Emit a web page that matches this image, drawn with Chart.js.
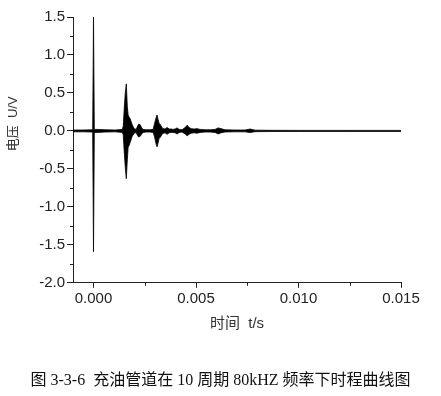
<!DOCTYPE html>
<html>
<head>
<meta charset="utf-8">
<script src="https://cdn.jsdelivr.net/npm/chart.js@4.4.1/dist/chart.umd.min.js"></script>
<style>
  html, body { margin: 0; padding: 0; background: #fff; }
  #wrap { width: 441px; height: 396px; }
</style>
</head>
<body>
<div id="wrap"><canvas id="grafic" width="441" height="396"></canvas></div>
<script>
// signal envelope (time in s, voltage in V)
const timeS = [
  -0.00100, -0.00050, -0.00004, 0.00000, 0.00004, 0.00018, 0.00057, 0.00106,
  0.00140, 0.00145, 0.00150, 0.00155, 0.00160, 0.00165, 0.00169, 0.00174,
  0.00179, 0.00184, 0.00189, 0.00194, 0.00199, 0.00208, 0.00213, 0.00220,
  0.00228, 0.00235, 0.00242, 0.00257, 0.00276, 0.00291, 0.00298, 0.00306,
  0.00310, 0.00315, 0.00320, 0.00327, 0.00335, 0.00342, 0.00349, 0.00359,
  0.00369, 0.00379, 0.00388, 0.00398, 0.00408, 0.00418, 0.00432, 0.00447,
  0.00457, 0.00466, 0.00476, 0.00491, 0.00505, 0.00520, 0.00544, 0.00569,
  0.00593, 0.00608, 0.00622, 0.00642, 0.00690, 0.00739, 0.00764, 0.00788,
  0.00861, 0.01007, 0.01251, 0.01500
];
const upperV = [
  0.012, 0.012, 0.015, 1.50, 0.02, 0.02, 0.015, 0.012,
  0.02, 0.06, 0.30, 0.50, 0.62, 0.32, 0.21, 0.18,
  0.16, 0.12, 0.08, 0.05, 0.03, 0.02, 0.05, 0.09,
  0.08, 0.04, 0.02, 0.015, 0.015, 0.02, 0.10, 0.18,
  0.21, 0.15, 0.10, 0.08, 0.04, 0.03, 0.025, 0.045,
  0.025, 0.025, 0.02, 0.025, 0.04, 0.02, 0.015, 0.045,
  0.075, 0.045, 0.03, 0.025, 0.03, 0.02, 0.015, 0.015,
  0.02, 0.04, 0.03, 0.014, 0.012, 0.012, 0.025, 0.01,
  0.008, 0.007, 0.007, 0.007
];
const lowerV = [
  -0.012, -0.012, -0.015, -1.59, -0.02, -0.02, -0.015, -0.012,
  -0.02, -0.05, -0.28, -0.48, -0.63, -0.38, -0.22, -0.19,
  -0.15, -0.11, -0.07, -0.05, -0.03, -0.02, -0.05, -0.08,
  -0.07, -0.04, -0.02, -0.015, -0.015, -0.02, -0.08, -0.18,
  -0.21, -0.16, -0.10, -0.08, -0.04, -0.03, -0.025, -0.045,
  -0.025, -0.02, -0.02, -0.025, -0.04, -0.02, -0.015, -0.04,
  -0.065, -0.045, -0.03, -0.025, -0.03, -0.02, -0.015, -0.015,
  -0.02, -0.04, -0.025, -0.014, -0.012, -0.012, -0.022, -0.01,
  -0.008, -0.007, -0.007, -0.007
];

const xMajor = [0, 0.005, 0.010, 0.015];
const xMinor = [0.0025, 0.0075, 0.0125];
const yMajor = [-2.0, -1.5, -1.0, -0.5, 0.0, 0.5, 1.0, 1.5];
const yMinor = [-1.75, -1.25, -0.75, -0.25, 0.25, 0.75, 1.25];

const xTitle = "时间  t/s";
const yTitle = "\u3000\u3000\u3000\u3000电压  U/V";
const caption = "图 3-3-6  充油管道在 10 周期 80kHZ 频率下时程曲线图";

const axisColor = "#222";

// short ticks between the labelled ones
const minorTicks = {
  id: "minorTicks",
  afterDraw(chart) {
    let ctx = chart.ctx;
    let xs = chart.scales.x;
    let ys = chart.scales.y;
    ctx.save();
    ctx.strokeStyle = axisColor;
    ctx.lineWidth = 1;
    ctx.beginPath();
    xMinor.forEach(v => {
      let px = Math.round(xs.getPixelForValue(v)) + 0.5;
      ctx.moveTo(px, xs.top);
      ctx.lineTo(px, xs.top + 3);
    });
    yMinor.forEach(v => {
      let py = Math.round(ys.getPixelForValue(v)) + 0.5;
      ctx.moveTo(ys.right - 3, py);
      ctx.lineTo(ys.right, py);
    });
    ctx.stroke();
    ctx.restore();
  }
};

window.onload = function () {
  let upperPts = timeS.map((t, i) => ({x: t, y: upperV[i]}));
  let lowerPts = timeS.map((t, i) => ({x: t, y: lowerV[i]}));

  let ctx = document.getElementById("grafic").getContext("2d");
  new Chart(ctx, {
    type: "line",
    data: {
      datasets: [{
        data: upperPts,
        borderColor: "#000",
        borderWidth: 0.8,
        pointRadius: 0,
        tension: 0,
        fill: false
      }, {
        data: lowerPts,
        borderColor: "#000",
        backgroundColor: "#000",
        borderWidth: 0.8,
        pointRadius: 0,
        tension: 0,
        fill: "-1"
      }]
    },
    options: {
      responsive: false,
      devicePixelRatio: 1,
      animation: false,
      layout: { padding: { top: 17, left: 0, right: 0, bottom: 6 } },
      plugins: {
        legend: { display: false },
        tooltip: { enabled: false },
        title: {
          display: true,
          position: "bottom",
          text: caption,
          color: "#111",
          padding: 0,
          font: { family: '"Liberation Serif", "Noto Sans CJK SC", serif', size: 16, weight: "normal" }
        }
      },
      scales: {
        x: {
          type: "linear",
          min: -0.001,
          max: 0.015,
          afterBuildTicks: scale => { scale.ticks = xMajor.map(v => ({value: v})); },
          afterFit: scale => { scale.height = 88; scale.paddingRight = 40; scale.paddingLeft = 0; },
          border: { color: axisColor, width: 1 },
          grid: { drawOnChartArea: false, drawTicks: true, tickLength: 5, tickColor: axisColor },
          ticks: {
            autoSkip: false,
            maxRotation: 0,
            padding: 2,
            color: "#222",
            font: { family: '"Liberation Sans", Arial, sans-serif', size: 15 },
            callback: v => v.toFixed(3)
          },
          title: {
            display: true,
            text: xTitle,
            color: "#333",
            padding: { top: 0, bottom: 38 },
            font: { family: '"Liberation Sans", "Noto Sans CJK SC", sans-serif', size: 15 }
          }
        },
        y: {
          type: "linear",
          min: -2.0,
          max: 1.5,
          afterBuildTicks: scale => { scale.ticks = yMajor.map(v => ({value: v})); },
          afterFit: scale => { scale.width = 73; },
          border: { color: axisColor, width: 1 },
          grid: { drawOnChartArea: false, drawTicks: true, tickLength: 6, tickColor: axisColor },
          ticks: {
            padding: 2,
            color: "#222",
            font: { family: '"Liberation Sans", Arial, sans-serif', size: 15 },
            callback: v => v.toFixed(1)
          },
          title: {
            display: true,
            text: yTitle,
            color: "#333",
            padding: { top: 6, bottom: 0 },
            font: { family: '"Liberation Sans", "Noto Sans CJK SC", sans-serif', size: 13 }
          }
        }
      }
    },
    plugins: [minorTicks]
  });
};
</script>
</body>
</html>
